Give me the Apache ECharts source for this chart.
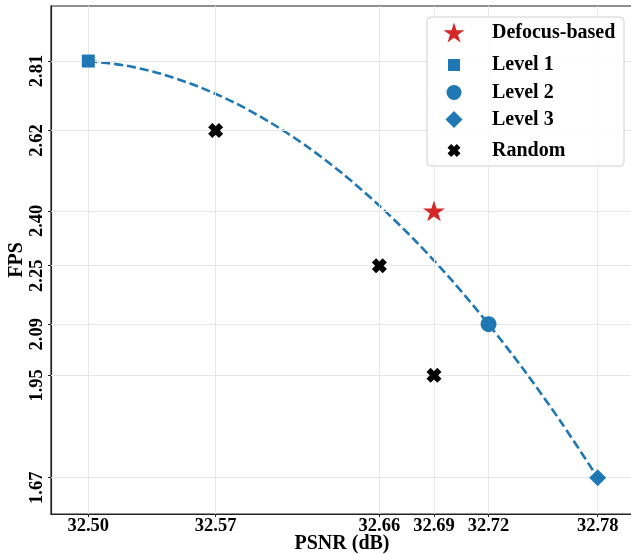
<!DOCTYPE html>
<html>
<head>
<meta charset="utf-8">
<script src="https://cdn.jsdelivr.net/npm/echarts@6/dist/echarts.min.js"></script>
<style>
html,body{margin:0;padding:0;background:#fff;}
#chart{width:631px;height:554px;}
</style>
</head>
<body>
<div id="chart"></div>
<script>
// ---- data ----
const xTicks = [32.50, 32.57, 32.66, 32.69, 32.72, 32.78];
const yTicks = [1.67, 1.95, 2.09, 2.25, 2.40, 2.62, 2.81];

const defocusX = [32.69];
const defocusY = [2.40];

const level1X = [32.50];
const level1Y = [2.81];
const level2X = [32.72];
const level2Y = [2.09];
const level3X = [32.78];
const level3Y = [1.67];

const randomX = [32.57, 32.66, 32.69];
const randomY = [2.62, 2.25, 1.95];

// dashed trend curve
const fitX = [32.50, 32.52, 32.54, 32.56, 32.58, 32.60, 32.62, 32.64, 32.66, 32.68, 32.70, 32.72, 32.74, 32.76, 32.78];
const fitY = [2.810, 2.798, 2.775, 2.741, 2.697, 2.642, 2.577, 2.501, 2.414, 2.317, 2.209, 2.090, 1.961, 1.821, 1.670];

// ---- styles ----
const FONT = 'Liberation Serif';
const BLUE = '#1f77b4';
const RED = '#d62728';
const STAR = 'path://M50 0 L61.23 34.55 L97.55 34.55 L68.16 55.9 L79.39 90.45 L50 69.1 L20.61 90.45 L31.84 55.9 L2.45 34.55 L38.77 34.55 Z';
const XMARK = 'path://M2.8 0 L5 2.2 L7.2 0 L10 2.8 L7.8 5 L10 7.2 L7.2 10 L5 7.8 L2.8 10 L0 7.2 L2.2 5 L0 2.8 Z';

const zip = (a, b) => a.map((v, i) => [v, b[i]]);

const chart = echarts.init(document.getElementById('chart'), null, {renderer: 'canvas'});

const legendRows = [
  {name: 'Defocus-based', icon: STAR, size: 21, cy: 33},
  {name: 'Level 1', icon: 'rect', size: 12, cy: 61},
  {name: 'Level 2', icon: 'circle', size: 15, cy: 90},
  {name: 'Level 3', icon: 'diamond', size: 17, cy: 118},
  {name: 'Random', icon: XMARK, size: 13, cy: 147}
];
const iconCx = 454, textX = 492;

const legends = legendRows.map(r => ({
  data: [{name: r.name, icon: r.icon}],
  selectedMode: false,
  orient: 'vertical',
  left: iconCx - r.size / 2,
  top: r.cy - r.size / 2,
  padding: 0,
  z: 10,
  itemWidth: r.size,
  itemHeight: r.size,
  textStyle: {
    fontFamily: FONT, fontWeight: 'bold', fontSize: 20, color: '#000',
    padding: [0, 0, 0, textX - 5 - (iconCx + r.size / 2)]
  }
}));

const option = {
  animation: false,
  backgroundColor: '#fff',
  grid: {
    left: 51, top: 6, right: -2, bottom: 40,
    outerBoundsMode: 'none',
    containLabel: false,
    show: true, borderColor: '#222', borderWidth: 1.2, backgroundColor: 'transparent'
  },
  graphic: [{
    type: 'rect', z: 8,
    shape: {x: 427, y: 17, width: 197, height: 149, r: 4},
    style: {fill: 'rgba(255,255,255,0.85)', stroke: '#d0d0d0', lineWidth: 1}
  }],
  legend: legends,
  xAxis: {
    type: 'value',
    min: 32.4795, max: 32.7994,
    name: 'PSNR (dB)',
    nameLocation: 'middle',
    nameGap: 20,
    nameMoveOverlap: false,
    nameTextStyle: {fontFamily: FONT, fontWeight: 'bold', fontSize: 20, color: '#000'},
    axisLine: {show: true, lineStyle: {color: '#222', width: 1.2}},
    axisTick: {show: true, length: 3, customValues: xTicks, lineStyle: {color: '#222'}},
    axisLabel: {
      customValues: xTicks, margin: 3,
      formatter: v => v.toFixed(2),
      fontFamily: FONT, fontWeight: 'bold', fontSize: 18.5, color: '#000'
    },
    splitLine: {show: false}
  },
  yAxis: {
    type: 'value',
    min: 1.5707, max: 2.9606,
    name: 'FPS',
    nameLocation: 'middle',
    nameGap: 24,
    nameMoveOverlap: false,
    nameTextStyle: {fontFamily: FONT, fontWeight: 'bold', fontSize: 20, color: '#000'},
    axisLine: {show: true, lineStyle: {color: '#222', width: 1.2}},
    axisTick: {show: true, length: 3, customValues: yTicks, lineStyle: {color: '#222'}},
    axisLabel: {
      customValues: yTicks, rotate: 90, margin: 4,
      padding: [0, 20, 0, 0],
      formatter: v => v.toFixed(2),
      fontFamily: FONT, fontWeight: 'bold', fontSize: 18.5, color: '#000'
    },
    splitLine: {show: false}
  },
  series: [
    {
      name: 'grid', type: 'line', data: [], z: 1, silent: true,
      markLine: {
        silent: true, symbol: ['none', 'none'], animation: false,
        label: {show: false},
        lineStyle: {color: '#e6e6e6', width: 1, type: 'solid'},
        data: xTicks.map(v => ({xAxis: v})).concat(yTicks.map(v => ({yAxis: v})))
      }
    },
    {
      name: 'Fit', type: 'line', data: zip(fitX, fitY), smooth: 0.3,
      showSymbol: false, symbol: 'none', z: 2,
      lineStyle: {color: BLUE, width: 2.6, type: [9, 4]}
    },
    {
      name: 'Defocus-based', type: 'scatter', data: zip(defocusX, defocusY),
      symbol: STAR, symbolSize: 22, symbolKeepAspect: true, z: 5,
      itemStyle: {color: RED, opacity: 1}
    },
    {
      name: 'Level 1', type: 'scatter', data: zip(level1X, level1Y),
      symbol: 'rect', symbolSize: 13, z: 5, itemStyle: {color: BLUE, opacity: 1}
    },
    {
      name: 'Level 2', type: 'scatter', data: zip(level2X, level2Y),
      symbol: 'circle', symbolSize: 16, z: 5, itemStyle: {color: BLUE, opacity: 1}
    },
    {
      name: 'Level 3', type: 'scatter', data: zip(level3X, level3Y),
      symbol: 'diamond', symbolSize: 17, z: 5, itemStyle: {color: BLUE, opacity: 1}
    },
    {
      name: 'Random', type: 'scatter', data: zip(randomX, randomY),
      symbol: XMARK, symbolSize: 15, z: 5, itemStyle: {color: '#000', opacity: 1}
    }
  ]
};
chart.setOption(option);
</script>
</body>
</html>
